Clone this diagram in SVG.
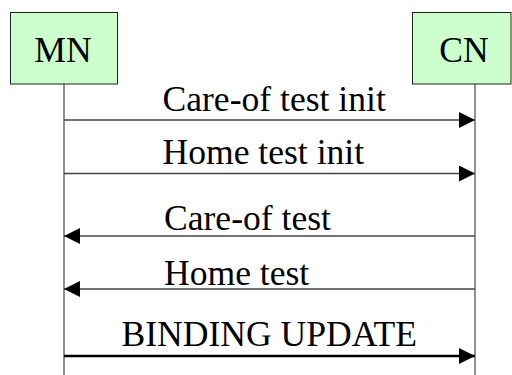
<svg xmlns="http://www.w3.org/2000/svg" width="512" height="375" viewBox="0 0 512 375">
<style>
.box{fill:#ccffcc;stroke:#222;stroke-width:1}
.life{stroke:#555;stroke-width:1.3}
.msg{stroke:#444;stroke-width:1.3;fill:none}
.bold{stroke:#000;stroke-width:2.6;fill:none}
text{font-family:"Liberation Serif","Times New Roman",serif;font-size:35.6px;fill:#000}
</style>
<defs>
<marker id="ah" markerUnits="userSpaceOnUse" markerWidth="16" markerHeight="16" viewBox="0 0 15 15" refX="15" refY="7.5" orient="auto">
<path d="M0,0 L15,7.5 L0,15 Z" fill="#000"/>
</marker>
</defs>
<rect width="512" height="375" fill="#fff"/>
<g id="lifelines">
<line class="life" x1="64" y1="84" x2="64" y2="375"/>
<line class="life" x1="475" y1="84" x2="475" y2="375"/>
</g>
<g id="MN">
<rect class="box" x="10.5" y="12.5" width="107" height="71.5"/>
<text x="63" y="61.5" text-anchor="middle">MN</text>
</g>
<g id="CN">
<rect class="box" x="412.5" y="12.5" width="98.5" height="71.5"/>
<text x="464" y="61.5" text-anchor="middle">CN</text>
</g>
<g id="connectors">
<line class="msg" x1="64" y1="120" x2="475" y2="120" marker-end="url(#ah)"/>
<line class="msg" x1="64" y1="173.5" x2="475" y2="173.5" marker-end="url(#ah)"/>
<line class="msg" x1="475" y1="236" x2="64" y2="236" marker-end="url(#ah)"/>
<line class="msg" x1="475" y1="289" x2="64" y2="289" marker-end="url(#ah)"/>
<line class="bold" x1="64" y1="356" x2="475" y2="356" marker-end="url(#ah)"/>
</g>
<g id="labels">
<text x="162.5" y="110.5">Care-of test init</text>
<text x="162.5" y="163.5">Home test init</text>
<text x="164" y="230">Care-of test</text>
<text x="164" y="285">Home test</text>
<text x="121.5" y="345.5">BINDING UPDATE</text>
</g>
</svg>
